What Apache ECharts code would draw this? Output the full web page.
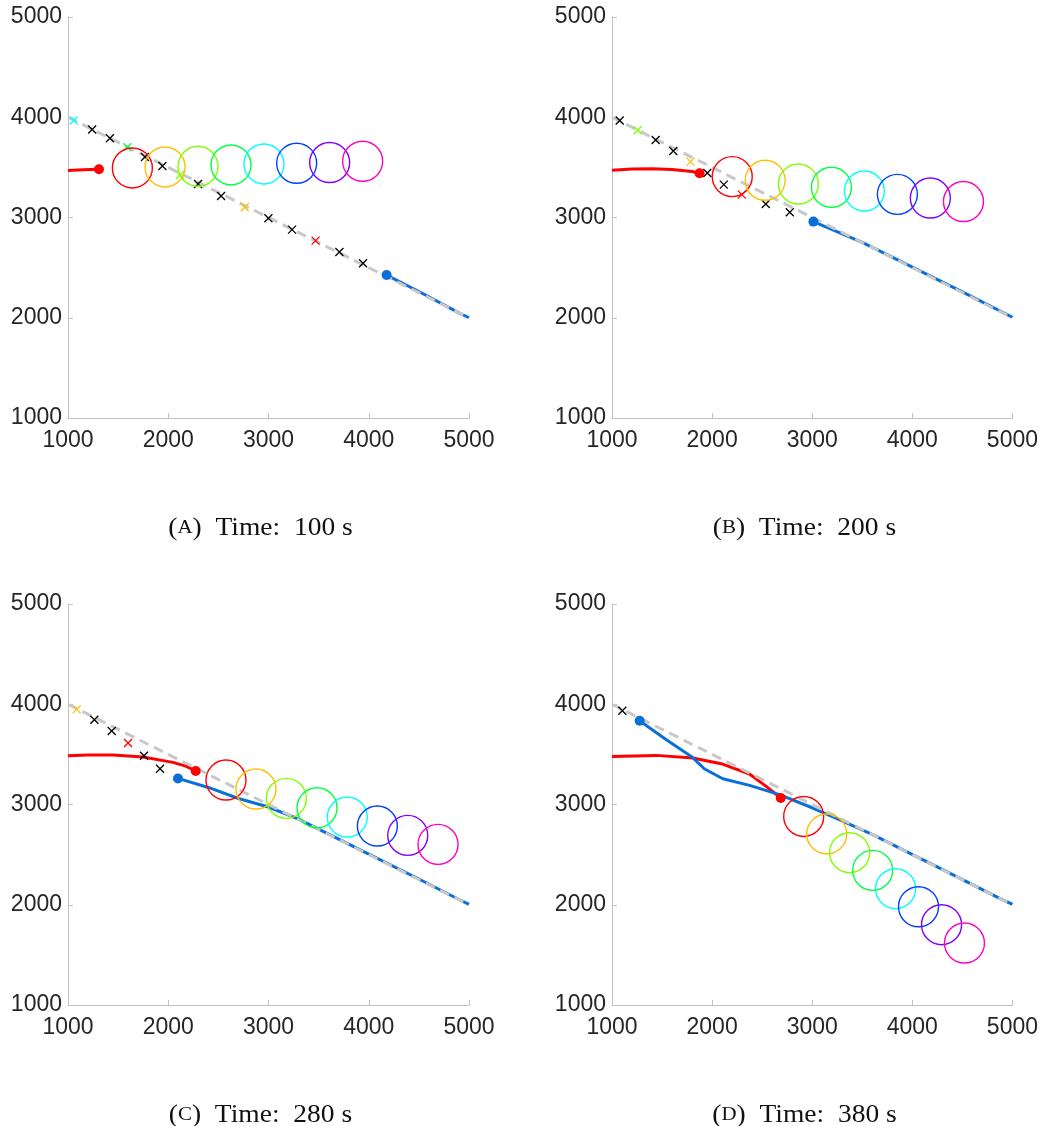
<!DOCTYPE html>
<html>
<head>
<meta charset="utf-8">
<script src="https://cdn.jsdelivr.net/npm/echarts@6/dist/echarts.min.js"></script>
<style>
  html, body { margin: 0; padding: 0; background: #ffffff; }
  #chart { width: 1041px; height: 1126px; }
</style>
</head>
<body>
<div id="chart"></div>
<script>
// Axis ticks (shared by all four panels)
const xTicks = [1000, 2000, 3000, 4000, 5000];
const yTicks = [1000, 2000, 3000, 4000, 5000];

// Reference path (grey dashed)
const refLine = [[1000, 4000], [5000, 2000]];

// Panel captions
const panelTags = ['A', 'B', 'C', 'D'];
const panelTimes = [100, 200, 280, 380];

// Red trajectory per panel (ends at the red dot)
const redPathA = [[1000, 3468], [1150, 3476], [1309, 3481]];
const redPathB = [[1000, 3472], [1200, 3484], [1400, 3487], [1600, 3478], [1800, 3458], [1875, 3441]];
const redPathC = [[1000, 3487], [1200, 3493], [1449, 3494], [1748, 3474], [2047, 3420], [2181, 3380], [2274, 3334]];
const redPathD = [[1000, 3480], [1443, 3490], [1808, 3464], [2091, 3407], [2374, 3304], [2540, 3181], [2686, 3065]];

// Blue trajectory per panel (starts at the blue dot)
const bluePathA = [[4178, 2426], [4500, 2262], [4905, 2046], [5000, 2000]];
const bluePathB = [[3012, 2959], [3500, 2752], [4000, 2505], [4500, 2258], [5000, 2005]];
const bluePathC = [[2097, 3260], [2400, 3170], [2700, 3060], [3000, 2975], [3300, 2855], [3600, 2705], [4000, 2505], [4500, 2257], [4905, 2050], [5000, 2003]];
const bluePathD = [[1276, 3836], [1543, 3646], [1792, 3480], [1925, 3354], [2107, 3257], [2374, 3191], [2673, 3098], [3005, 2965], [3271, 2848], [3604, 2699], [3937, 2532], [4269, 2367], [4601, 2200], [4868, 2067], [5000, 2003]];

// Cross markers: [x, y, stage] (stage -1 = unassigned)
const crossesA = [[1057, 3967, 4], [1241, 3877, -1], [1418, 3790, -1], [1592, 3700, 3], [1768, 3604, -1], [1942, 3514, -1], [2117, 3424, 2], [2297, 3334, -1], [2527, 3214, -1], [2763, 3102, 1], [2999, 2992, -1], [3235, 2879, -1], [3470, 2769, 0], [3707, 2656, -1], [3943, 2543, -1]];
const crossesB = [[1077, 3967, -1], [1256, 3870, 2], [1436, 3773, -1], [1612, 3663, -1], [1785, 3557, 1], [1952, 3444, -1], [2117, 3328, -1], [2297, 3228, 0], [2536, 3135, -1], [2776, 3052, -1]];
const crossesC = [[1087, 3949, 1], [1263, 3846, -1], [1436, 3733, -1], [1599, 3613, 0], [1758, 3487, -1], [1918, 3357, -1]];
const crossesD = [[1103, 3936, -1]];

// Circle centres, one per stage
const circlesA = [[1642, 3494], [1968, 3504], [2297, 3511], [2626, 3524], [2955, 3534], [3281, 3541], [3610, 3548], [3939, 3561]];
const circlesB = [[2201, 3408], [2530, 3371], [2862, 3334], [3192, 3301], [3521, 3264], [3851, 3231], [4180, 3194], [4511, 3159]];
const circlesC = [[2576, 3244], [2875, 3154], [3178, 3061], [3484, 2967], [3786, 2875], [4086, 2785], [4389, 2692], [4691, 2602]];
const circlesD = [[2915, 2881], [3145, 2706], [3374, 2519], [3604, 2343], [3833, 2160], [4062, 1980], [4292, 1801], [4521, 1618]];

// ---- styling & layout ----
const stageColors = ['#ff0000', '#ffbf00', '#80ff00', '#00ff40', '#00ffff', '#0040ff', '#8000ff', '#ff00bf'];
const RED = '#ff0000';
const BLUE = '#0b6fd9';
const GREY = '#c8c8c8';
const AXIS = '#c2c2c2';
const LABEL = '#262626';

const panels = [
  { red: redPathA, blue: bluePathA, crosses: crossesA, circles: circlesA, left: 68, top: 17 },
  { red: redPathB, blue: bluePathB, crosses: crossesB, circles: circlesB, left: 612, top: 17 },
  { red: redPathC, blue: bluePathC, crosses: crossesC, circles: circlesC, left: 68, top: 604 },
  { red: redPathD, blue: bluePathD, crosses: crossesD, circles: circlesD, left: 612, top: 604 }
];
const PLOT = 401;

const grids = [], xAxes = [], yAxes = [], series = [], graphics = [];

panels.forEach((p, i) => {
  grids.push({ left: p.left, top: p.top, width: PLOT, height: PLOT, containLabel: false });
  const axisCommon = {
    type: 'value', gridIndex: i,
    axisLine: { show: true, lineStyle: { color: AXIS, width: 1 } },
    axisTick: { show: true, inside: true, length: 5, lineStyle: { color: AXIS } },
    splitLine: { show: false },
    axisLabel: { color: LABEL, fontFamily: 'Liberation Sans', fontSize: 23, formatter: v => String(v) }
  };
  xAxes.push(Object.assign({}, axisCommon, {
    min: xTicks[0], max: xTicks[xTicks.length - 1], interval: xTicks[1] - xTicks[0],
    axisLabel: Object.assign({}, axisCommon.axisLabel, { margin: 11 })
  }));
  yAxes.push(Object.assign({}, axisCommon, {
    min: yTicks[0], max: yTicks[yTicks.length - 1], interval: yTicks[1] - yTicks[0],
    axisLabel: Object.assign({}, axisCommon.axisLabel, { margin: 6 })
  }));

  const ax = { xAxisIndex: i, yAxisIndex: i };

  series.push(Object.assign({
    type: 'line', data: p.red, symbol: 'none', smooth: false,
    lineStyle: { color: RED, width: 3 }, z: 2
  }, ax));
  series.push(Object.assign({
    type: 'line', data: p.blue, symbol: 'none', smooth: false,
    lineStyle: { color: BLUE, width: 3 }, z: 2
  }, ax));
  series.push(Object.assign({
    type: 'line', data: refLine, symbol: 'none',
    lineStyle: { color: GREY, width: 3, type: [10, 6] }, z: 3
  }, ax));

  // cross markers
  series.push(Object.assign({
    type: 'scatter', z: 4,
    symbol: 'path://M0,0L10,10M10,0L0,10',
    symbolSize: 8,
    data: p.crosses.map(c => ({
      value: [c[0], c[1]],
      itemStyle: { color: 'none', opacity: 1, borderColor: c[2] < 0 ? '#000000' : stageColors[c[2]], borderWidth: 1.3 }
    }))
  }, ax));

  // stage circles
  series.push(Object.assign({
    type: 'scatter', z: 5, symbol: 'circle', symbolSize: 40,
    data: p.circles.map((c, k) => ({
      value: c,
      itemStyle: { color: 'none', opacity: 1, borderColor: stageColors[k], borderWidth: 1.4 }
    }))
  }, ax));

  // end-point dots
  series.push(Object.assign({
    type: 'scatter', z: 6, symbol: 'circle', symbolSize: 10,
    data: [
      { value: p.red[p.red.length - 1], itemStyle: { color: RED, opacity: 1 } },
      { value: p.blue[0], itemStyle: { color: BLUE, opacity: 1 } }
    ]
  }, ax));

  // caption
  graphics.push({
    type: 'text',
    x: p.left + PLOT / 2 - 8,
    y: p.top + 511,
    scaleX: 1.1,
    style: {
      text: '{p|(}{sc|' + panelTags[i] + '}{p|)  Time:  ' + panelTimes[i] + ' s}',
      align: 'center', verticalAlign: 'middle',
      rich: {
        p: { fontFamily: 'Liberation Serif', fontSize: 25, fill: '#111111' },
        sc: { fontFamily: 'Liberation Serif', fontSize: 19, fill: '#111111' }
      }
    }
  });
});

const chart = echarts.init(document.getElementById('chart'), null, { renderer: 'canvas' });
chart.setOption({
  animation: false,
  backgroundColor: '#ffffff',
  grid: grids,
  xAxis: xAxes,
  yAxis: yAxes,
  series: series.map(s => Object.assign({ silent: true }, s)),
  graphic: graphics
});
</script>
</body>
</html>
